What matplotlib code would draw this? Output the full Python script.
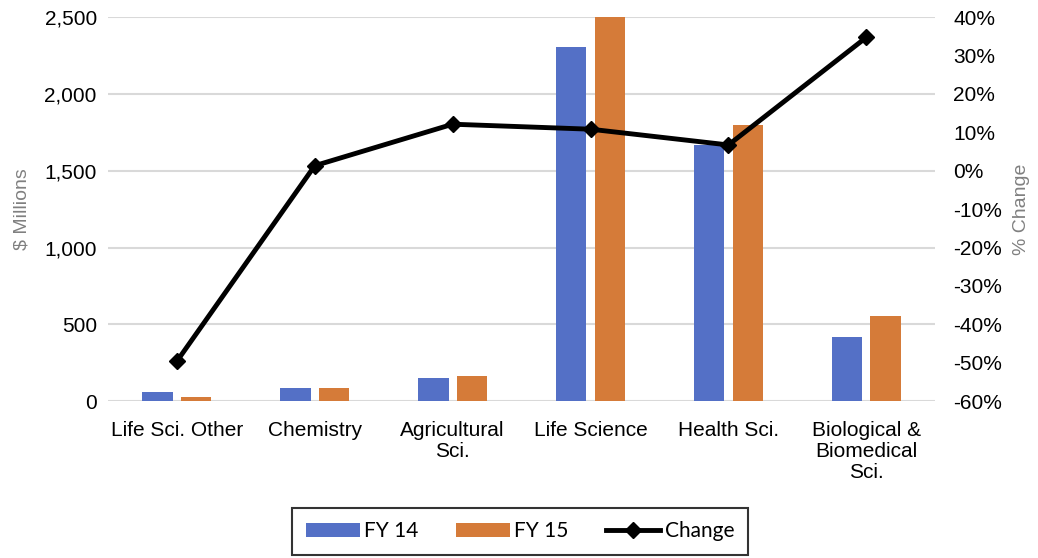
import matplotlib.pyplot as plt
import numpy as np
from matplotlib.ticker import FuncFormatter

categories = ["Life Sci. Other", "Chemistry", "Agricultural\nSci.", "Life Science",
              "Health Sci.", "Biological &\nBiomedical\nSci."]
fy14 = [60, 83, 152, 2305, 1667, 417]
fy15 = [28, 83, 167, 2500, 1797, 553]
change = [-49.6, 1.3, 12.1, 10.8, 6.7, 34.7]

blue = "#5470c6"
orange = "#d57b39"

fig = plt.figure(figsize=(10.38, 5.58), dpi=100)
ax = fig.add_axes([0.104, 0.281, 0.797, 0.6885])

x = np.arange(len(categories))
width = 0.22
ax.bar(x - 0.14, fy14, width, color=blue, label="FY 14", zorder=2)
ax.bar(x + 0.14, fy15, width, color=orange, label="FY 15", zorder=2)

ax.set_xlim(-0.5, len(categories) - 0.5)
ax.set_ylim(0, 2500)
ax.set_yticks(range(0, 2501, 500))
ax.yaxis.set_major_formatter(FuncFormatter(lambda v, p: f"{int(v):,}"))
ax.grid(axis="y", color="#d9d9d9", linewidth=1.5, zorder=0)
ax.set_axisbelow(True)
ax.set_xticks(x)
ax.set_xticklabels(categories, fontsize=15, family="Liberation Sans", va="top",
                   linespacing=1.15)
ax.tick_params(axis="y", length=0, labelsize=15, pad=8)
ax.tick_params(axis="x", length=0, pad=14)
for lbl in ax.get_yticklabels():
    lbl.set_family("Liberation Sans")
for s in ax.spines.values():
    s.set_visible(False)
ax.set_ylabel("$ Millions", fontsize=14, color="#808080", family="Liberation Sans",
              labelpad=10)

ax2 = ax.twinx()
ax2.plot(x, change, color="black", linewidth=3.5, marker="D", markersize=8.5,
         label="Change", zorder=3)
ax2.set_ylim(-60, 40)
ax2.set_yticks(range(-60, 41, 10))
ax2.yaxis.set_major_formatter(FuncFormatter(lambda v, p: f"{int(v)}%"))
ax2.tick_params(axis="y", length=0, labelsize=15, pad=13)
for lbl in ax2.get_yticklabels():
    lbl.set_family("Liberation Sans")
for s in ax2.spines.values():
    s.set_visible(False)
ax2.set_ylabel("% Change", fontsize=14, color="#808080", family="Liberation Sans",
               labelpad=8)

h1, l1 = ax.get_legend_handles_labels()
h2, l2 = ax2.get_legend_handles_labels()
leg = fig.legend(h1 + h2, l1 + l2, loc="center", bbox_to_anchor=(0.501, 0.048),
                 ncol=3, frameon=True, fancybox=False, prop={"family": "Lato", "size": 15},
                 handlelength=2.6, handletextpad=0.2, columnspacing=1.8,
                 borderpad=0.65)
leg.get_frame().set_edgecolor("black")
leg.get_frame().set_linewidth(1.5)

fig.savefig("out.png", dpi=100)
